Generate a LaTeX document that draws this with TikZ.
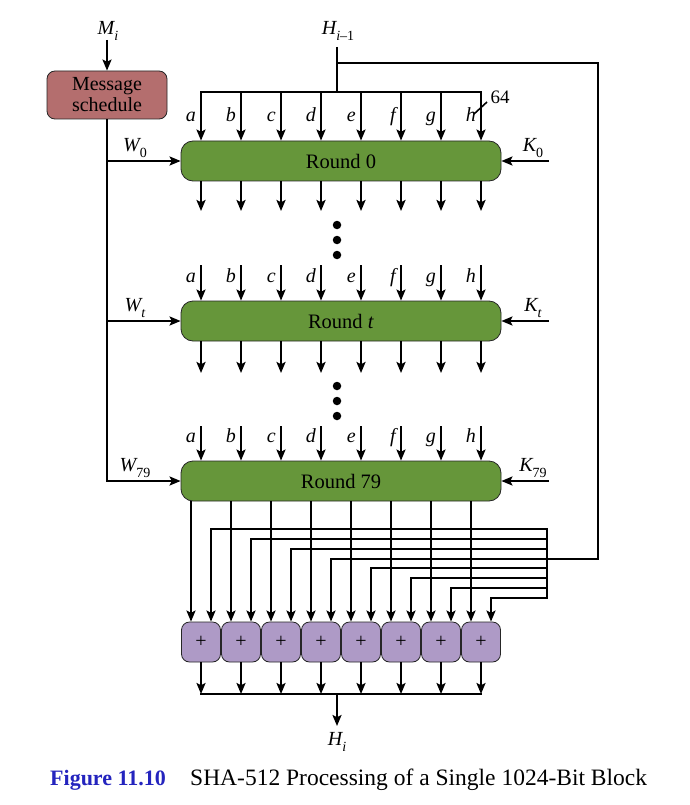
\documentclass[tikz,border=0pt]{standalone}
\usepackage{fontspec}
\setmainfont{Liberation Serif}
\usetikzlibrary{arrows.meta,calc}
\definecolor{rgreen}{RGB}{102,150,58}
\definecolor{msred}{RGB}{180,110,110}
\definecolor{plusv}{RGB}{174,154,198}
\definecolor{capblue}{RGB}{36,36,190}
\newcommand\sbs[1]{\raisebox{-0.3em}{\fontsize{14}{14}\selectfont #1}}
\begin{document}
\begin{tikzpicture}[x=1pt,y=-1pt,
  wire/.style={line width=2.1pt},
  arr/.style={line width=2.1pt,-{Stealth[length=11pt,width=9pt,inset=2.2pt]}},
  rbox/.style={draw=black!85,line width=0.8pt,fill=rgreen,rounded corners=12pt,
    minimum width=320pt,minimum height=40pt,inner sep=0pt,font=\fontsize{20.5}{20}\selectfont},
  msbox/.style={draw=black!85,line width=0.8pt,fill=msred,rounded corners=8pt,
    minimum width=120pt,minimum height=48pt,inner sep=0pt,align=center,
    font=\fontsize{20}{21}\selectfont},
  pbox/.style={draw=black!85,line width=0.8pt,fill=plusv,rounded corners=8pt,
    minimum width=39pt,minimum height=40pt,inner sep=0pt,font=\fontsize{20}{20}\selectfont},
  lab/.style={font=\fontsize{20}{20}\selectfont\itshape,inner sep=0pt},
  dotn/.style={circle,fill=black,minimum size=8.5pt,inner sep=0pt}]
\useasboundingbox (0,0) rectangle (689,805);

% rounds
\node[rbox] (r0) at (341,161) {Round 0};
\node[rbox] (r1) at (341,321) {Round \textit{t}};
\node[rbox] (r2) at (341,481) {Round 79};

% message schedule
\node[msbox] (ms) at (107,95) {Message\\schedule};
\node[lab,anchor=base] (mi) at (108,35) {M\sbs{i}};
\coordinate (mis) at (107,40);
\draw[arr] (mis) -- (mis |- ms.north);

% W inputs
\coordinate (w0) at (107,161);
\coordinate (w1) at (107,321);
\coordinate (w2) at (107,481);
\draw[arr] (ms.south) -- (w2) -- (r2.west);
\draw[arr] (w0) -- (r0.west);
\draw[arr] (w1) -- (r1.west);
\node[lab,anchor=base] (lw0) at (135,152) {W\sbs{\upshape 0}};
\node[lab,anchor=base] (lw1) at (135,311) {W\sbs{t}};
\node[lab,anchor=base] (lw2) at (135,471) {W\sbs{\upshape 79}};

% K inputs
\coordinate (k0) at (549,161);
\coordinate (k1) at (549,321);
\coordinate (k2) at (549,481);
\draw[arr] (k0) -- (r0.east);
\draw[arr] (k1) -- (r1.east);
\draw[arr] (k2) -- (r2.east);
\node[lab,anchor=base] (lk0) at (533,152) {K\sbs{\upshape 0}};
\node[lab,anchor=base] (lk1) at (533,311) {K\sbs{t}};
\node[lab,anchor=base] (lk2) at (533,471) {K\sbs{\upshape 79}};

% H_{i-1} and top bus
\node[lab,anchor=base] (hprev) at (338,35) {H\sbs{i\upshape --1}};
\coordinate (hs) at (337,47);
\coordinate (hb) at (337,92);
\coordinate (hf) at (337,63);
\coordinate (busL) at (201,92);
\coordinate (busR) at (481,92);
\draw[wire] (hs) -- (hb);
\draw[wire,line cap=rect] (busL) -- (busR);
\coordinate (fbj) at (547,559);
\draw[wire] (hf) -- (598,63) -- (598,559) -- (fbj);

% slash and 64
\draw[line width=1.6pt] (474,114) -- (487,102);
\node[font=\fontsize{19}{19}\selectfont,inner sep=0pt,anchor=base] (n64) at (500,104) {64};

% inputs and outputs of rounds
\foreach \k/\l in {0/a,1/b,2/c,3/d,4/e,5/f,6/g,7/h}{
  \coordinate (ia\k) at (201+40*\k,92);
  \draw[arr] (ia\k) -- (ia\k |- r0.north);
  \node[lab,anchor=base east] (la\k) at (196+40*\k,122) {\l};
  \coordinate (oa\k) at (201+40*\k,211);
  \draw[arr] (oa\k |- r0.south) -- (oa\k);
  \coordinate (ib\k) at (201+40*\k,265);
  \draw[arr] (ib\k) -- (ib\k |- r1.north);
  \node[lab,anchor=base east] (lb\k) at (196+40*\k,282) {\l};
  \coordinate (ob\k) at (201+40*\k,373);
  \draw[arr] (ob\k |- r1.south) -- (ob\k);
  \coordinate (ic\k) at (201+40*\k,426);
  \draw[arr] (ic\k) -- (ic\k |- r2.north);
  \node[lab,anchor=base east] (lc\k) at (196+40*\k,442) {\l};
}

% dots
\node[dotn] (d1) at (337,225) {};
\node[dotn] (d2) at (337,240) {};
\node[dotn] (d3) at (337,255) {};
\node[dotn] (d4) at (337,386) {};
\node[dotn] (d5) at (337,401) {};
\node[dotn] (d6) at (337,416) {};

% adders
\foreach \k in {0,...,7}{
  \node[pbox] (p\k) at (201+40*\k,642) {+};
}

% feedback bus
\coordinate (fbT) at (547,529);
\coordinate (fbB) at (547,598);
\draw[wire,line cap=rect] (fbT) -- (fbB);
\foreach \k in {0,...,7}{
  \coordinate (fb\k) at (547,529+9.857*\k);
  \draw[arr] (fb\k) -| ($(p\k.north)+(10,0)$);
  \coordinate (oc\k) at (191+40*\k,501);
  \draw[arr] (oc\k) -- ($(p\k.north)+(-10,0)$);
}

% outputs
\coordinate (sbL) at (201,694);
\coordinate (sbR) at (481,694);
\coordinate (sbM) at (337,694);
\foreach \k in {0,...,7}{
  \draw[arr] (p\k.south) -- (p\k.south |- sbM);
}
\draw[wire,line cap=rect] (sbL) -- (sbR);
\node[lab,anchor=base] (hout) at (337,745) {H\sbs{i}};
\draw[arr] (sbM) -- (337,726);

% caption
\node[anchor=base west,inner sep=0pt,text=capblue,font=\fontsize{22}{22}\selectfont\bfseries] (cap1) at (50,785) {Figure 11.10};
\node[anchor=base west,inner sep=0pt,font=\fontsize{23.5}{23.5}\selectfont] (cap2) at (190,785) {SHA-512 Processing of a Single 1024-Bit Block};
\end{tikzpicture}
\end{document}
